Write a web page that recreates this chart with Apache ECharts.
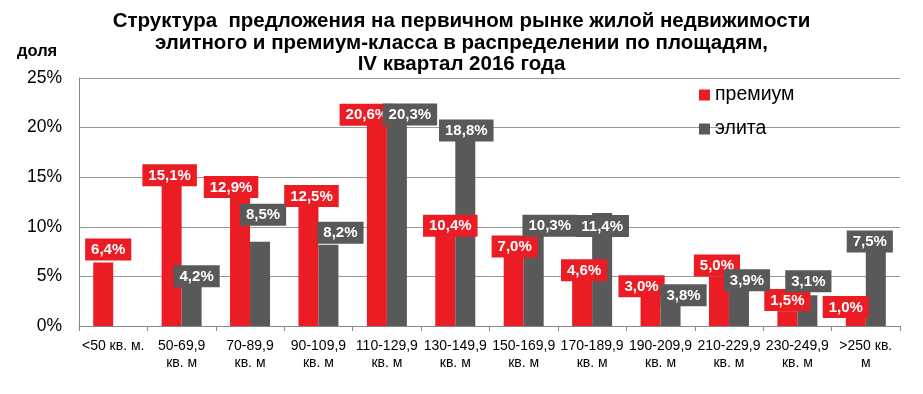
<!DOCTYPE html>
<html><head><meta charset="utf-8">
<script src="https://cdn.jsdelivr.net/npm/echarts@6/dist/echarts.min.js"></script>
<style>html,body{margin:0;padding:0;background:#fff}#c{width:923px;height:394px}</style>
</head><body><div id="c"></div>
<script>
const categories = ["<50 кв. м.", "50-69,9\nкв. м", "70-89,9\nкв. м", "90-109,9\nкв. м", "110-129,9\nкв. м", "130-149,9\nкв. м", "150-169,9\nкв. м", "170-189,9\nкв. м", "190-209,9\nкв. м", "210-229,9\nкв. м", "230-249,9\nкв. м", ">250 кв.\nм"];
const premium = [6.4, 15.1, 12.9, 12.5, 20.6, 10.4, 7.0, 4.6, 3.0, 5.0, 1.5, 1.0];
const elite = [null, 4.2, 8.5, 8.2, 20.3, 18.8, 10.3, 11.4, 3.8, 3.9, 3.1, 7.5];
const yTicks = [0, 5, 10, 15, 20, 25];
const seriesNames = ["премиум", "элита"];
const titleText = "Структура  предложения на первичном рынке жилой недвижимости\nэлитного и премиум-класса в распределении по площадям,\nIV квартал 2016 года";

// label nudges (manual label placement in the original), pixels [dx, dy]
const premiumLabelNudge = [[5,-2],[-2,10],[-9,0],[3,5],[-10,4],[5,14],[1,1],[2,1],[-9,1],[-2,0],[0,0],[-10,2]];
const eliteLabelNudge = [[0,0],[5,3],[3,-16],[12,-1],[13,1],[1,2],[16,13],[0,24],[13,18],[8,4],[1,-3],[-6,1]];

const RED = '#ec1c24', GRAY = '#595959';
const FONT = 'Liberation Sans, Arial, sans-serif';
const fmt = v => v.toFixed(1).replace('.', ',') + '%';
function labelFor(color) {
  return {
    show: true, position: 'top', distance: 0,
    color: '#fff', fontWeight: 'bold', fontSize: 15, fontFamily: FONT,
    backgroundColor: color, padding: [3, 6, 2, 6], lineHeight: 17,
    formatter: p => fmt(p.value)
  };
}
function withNudge(values, nudges) {
  return values.map((v, i) => ({ value: v, label: { offset: nudges[i] } }));
}
const chart = echarts.init(document.getElementById('c'));
chart.setOption({
  animation: false,
  textStyle: { fontFamily: FONT },
  title: {
    text: titleText, left: 'center', top: 6,
    textStyle: { fontSize: 20.5, fontWeight: 'bold', color: '#000', lineHeight: 21.5, fontFamily: FONT }
  },
  graphic: [{ type: 'text', left: 17, top: 43, style: { text: 'доля', fontSize: 16.5, fontWeight: 'bold', fill: '#000', fontFamily: FONT } }],
  legend: {
    orient: 'vertical', left: 694, top: 80, itemWidth: 11, itemHeight: 11, itemGap: 14,
    icon: 'rect', textStyle: { fontSize: 19.5, color: '#000', padding: [2, 0, 0, 0] },
    data: seriesNames
  },
  grid: { left: 79, right: 23, top: 78, bottom: 68, containLabel: false },
  xAxis: {
    type: 'category', data: categories,
    axisLine: { lineStyle: { color: '#888', width: 1 } },
    axisTick: { show: true, length: 5, lineStyle: { color: '#888' } },
    axisLabel: { interval: 0, fontSize: 14, color: '#000', lineHeight: 17, margin: 12 }
  },
  yAxis: {
    type: 'value', min: yTicks[0], max: yTicks[yTicks.length - 1], interval: 5,
    axisLine: { show: true, lineStyle: { color: '#888' } },
    axisTick: { show: false },
    splitLine: { lineStyle: { color: '#999', width: 1 } },
    axisLabel: { fontSize: 17.5, color: '#000', margin: 17, formatter: '{value}%' }
  },
  series: [
    { name: seriesNames[0], type: 'bar', data: withNudge(premium, premiumLabelNudge), barWidth: 20, barGap: '0%', itemStyle: { color: RED }, label: labelFor(RED) },
    { name: seriesNames[1], type: 'bar', data: withNudge(elite, eliteLabelNudge), barWidth: 20, barGap: '0%', itemStyle: { color: GRAY }, label: labelFor(GRAY) }
  ]
});
</script></body></html>
